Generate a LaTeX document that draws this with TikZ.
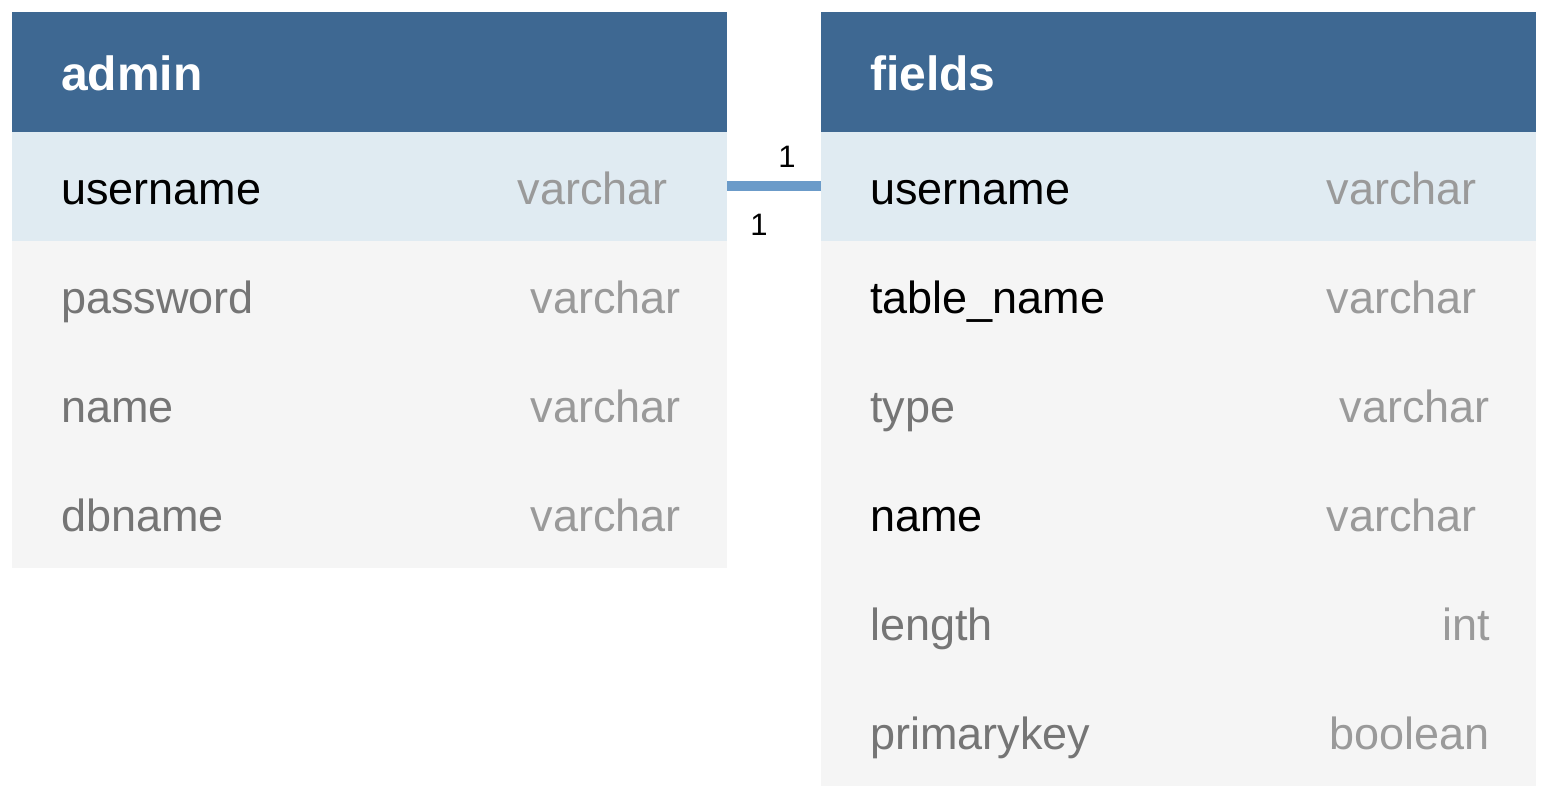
\documentclass[tikz,border=0pt]{standalone}
\usepackage{fontspec}
\setmainfont{Liberation Sans}
\definecolor{hdr}{HTML}{3E6892}
\definecolor{keyrow}{HTML}{E0EBF2}
\definecolor{plainrow}{HTML}{F5F5F5}
\definecolor{conncol}{HTML}{6B9BC9}
\definecolor{namegrey}{HTML}{757575}
\definecolor{typegrey}{HTML}{9A9A9A}
\begin{document}
\begin{tikzpicture}[x=1pt,y=-1pt,
  header/.style={rectangle,fill=hdr,draw=none,minimum width=715pt,minimum height=120pt,anchor=north west,inner sep=0},
  keyrowbox/.style={rectangle,fill=keyrow,draw=none,minimum width=715pt,minimum height=109pt,anchor=north west,inner sep=0},
  rowbox/.style={rectangle,fill=plainrow,draw=none,minimum width=715pt,minimum height=109pt,anchor=north west,inner sep=0},
  htext/.style={anchor=base west,inner sep=0,text=white,font=\fontsize{48}{56}\selectfont\bfseries},
  fname/.style={anchor=base west,inner sep=0,text=black,font=\fontsize{45}{54}\selectfont},
  gname/.style={anchor=base west,inner sep=0,text=namegrey,font=\fontsize{45}{54}\selectfont},
  ftype/.style={anchor=base east,inner sep=0,text=typegrey,font=\fontsize{45}{54}\selectfont},
  card/.style={inner sep=0,text=black,font=\fontsize{31}{36}\selectfont},
  conn/.style={draw=conncol,line width=10.5pt}
]
\useasboundingbox (0,0) rectangle (1548,800);
% admin table
\node[header] (ah) at (12,12) {};
\node[keyrowbox] (a1) at (12,132) {};
\node[rowbox] (a2) at (12,241) {};
\node[rowbox] (a3) at (12,350) {};
\node[rowbox] (a4) at (12,459) {};
\node[htext] (aht) at (61,91) {admin};
\node[fname] (a1n) at (61,204) {username};
\node[ftype] (a1t) at (668,204) {varchar};
\node[gname] (a2n) at (61,313) {password};
\node[ftype] (a2t) at (681,313) {varchar};
\node[gname] (a3n) at (61,422) {name};
\node[ftype] (a3t) at (681,422) {varchar};
\node[gname] (a4n) at (61,531) {dbname};
\node[ftype] (a4t) at (681,531) {varchar};
% fields table
\node[header] (fh) at (821,12) {};
\node[keyrowbox] (f1) at (821,132) {};
\node[rowbox] (f2) at (821,241) {};
\node[rowbox] (f3) at (821,350) {};
\node[rowbox] (f4) at (821,459) {};
\node[rowbox] (f5) at (821,568) {};
\node[rowbox] (f6) at (821,677) {};
\node[htext] (fht) at (870,91) {fields};
\node[fname] (f1n) at (870,204) {username};
\node[ftype] (f1t) at (1477,204) {varchar};
\node[fname] (f2n) at (870,313) {table\_name};
\node[ftype] (f2t) at (1477,313) {varchar};
\node[gname] (f3n) at (870,422) {type};
\node[ftype] (f3t) at (1490,422) {varchar};
\node[fname] (f4n) at (870,531) {name};
\node[ftype] (f4t) at (1477,531) {varchar};
\node[gname] (f5n) at (870,640) {length};
\node[ftype] (f5t) at (1490,640) {int};
\node[gname] (f6n) at (870,749) {primarykey};
\node[ftype] (f6t) at (1490,749) {boolean};
% relation
\draw[conn] ([yshift=0.5pt]a1.east) -- ([yshift=0.5pt]f1.west);
\node[card,anchor=base] (c1) at (787,167) {1};
\node[card,anchor=base] (c2) at (759,235) {1};
\end{tikzpicture}
\end{document}
